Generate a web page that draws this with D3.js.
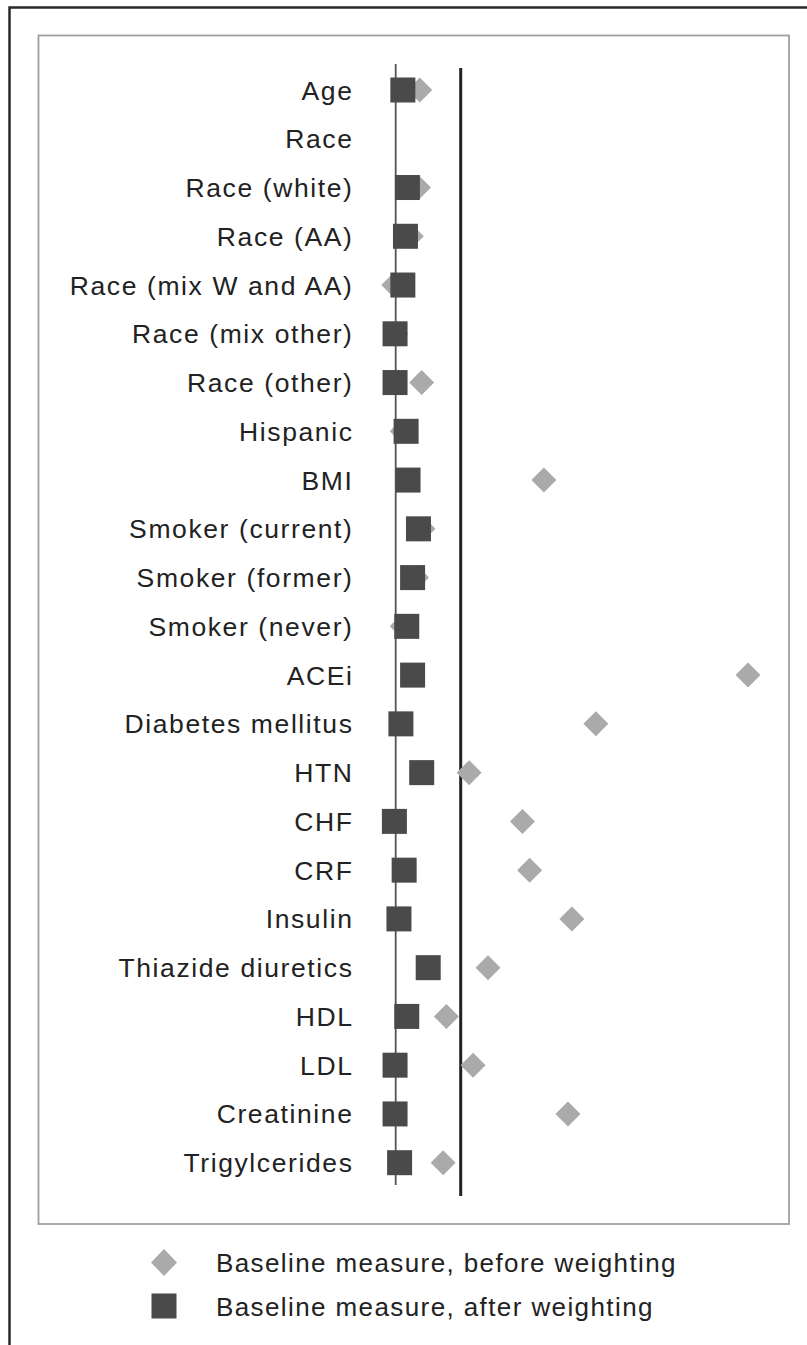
<!DOCTYPE html>
<html>
<head>
<meta charset="utf-8">
<script src="https://cdn.jsdelivr.net/npm/d3@7"></script>
<style>
  body { margin: 0; background: #fff; }
  svg { display: block; font-family: "Liberation Sans", Arial, Helvetica, sans-serif; }
</style>
</head>
<body>
<svg id="chart" width="807" height="1345"></svg>
<script>
// Variables (de arriba a abajo)
const variables = ["Age", "Race", "Race (white)", "Race (AA)", "Race (mix W and AA)", "Race (mix other)",
  "Race (other)", "Hispanic", "BMI", "Smoker (current)", "Smoker (former)", "Smoker (never)", "ACEi",
  "Diabetes mellitus", "HTN", "CHF", "CRF", "Insulin", "Thiazide diuretics", "HDL", "LDL",
  "Creatinine", "Trigylcerides"];

// Diferencia estandarizada antes de ponderar (rombos)
const antes = [0.037, null, 0.035, 0.024, -0.003, 0.000, 0.040, 0.010, 0.228, 0.042, 0.032, 0.010,
  0.542, 0.308, 0.113, 0.195, 0.206, 0.271, 0.142, 0.078, 0.119, 0.265, 0.073];

// Diferencia estandarizada después de ponderar (cuadrados)
const despues = [0.011, null, 0.018, 0.015, 0.011, -0.001, -0.001, 0.016, 0.019, 0.035, 0.026, 0.017,
  0.026, 0.008, 0.040, -0.002, 0.013, 0.005, 0.050, 0.017, -0.001, -0.001, 0.006];

const umbral = 0.1;

const leyenda = ["Baseline measure, before weighting", "Baseline measure, after weighting"];

const svg = d3.select("#chart");
const colorRombo = "#aaaaaa";
const colorCuadro = "#4a4a4a";
const tam = 25;

// Marco exterior (solo arriba e izquierda)
svg.append("path")
  .attr("d", "M9.5,1345 L9.5,7.5 L807,7.5")
  .attr("fill", "none")
  .attr("stroke", "#2a2a2a")
  .attr("stroke-width", 2.5);

// Caja interior gris
svg.append("rect")
  .attr("x", 38.5).attr("y", 35.5)
  .attr("width", 750.5).attr("height", 1188.5)
  .attr("fill", "none")
  .attr("stroke", "#a0a0a0")
  .attr("stroke-width", 1.8);

const x = d3.scaleLinear().domain([0, umbral]).range([395.7, 460.7]);
const y = d3.scalePoint().domain(variables).range([90, 1162.7]);

// Línea de cero
svg.append("line")
  .attr("x1", x(0)).attr("x2", x(0))
  .attr("y1", 64).attr("y2", 1185)
  .attr("stroke", "#555")
  .attr("stroke-width", 1.8);

// Línea del umbral
svg.append("line")
  .attr("x1", x(umbral)).attr("x2", x(umbral))
  .attr("y1", 68).attr("y2", 1196)
  .attr("stroke", "#222")
  .attr("stroke-width", 3);

// Etiquetas
svg.selectAll(".etiqueta")
  .data(variables)
  .enter()
  .append("text")
  .attr("class", "etiqueta")
  .attr("x", 353.5)
  .attr("y", d => y(d) + 9.5)
  .attr("text-anchor", "end")
  .attr("font-size", 26.5)
  .attr("letter-spacing", 1.6)
  .attr("fill", "#222")
  .text(d => d);

const diamante = d3.symbol().type(d3.symbolSquare).size((tam / Math.SQRT2) ** 2);

// Rombos (antes)
svg.selectAll(".rombo")
  .data(variables.map((v, i) => ({ v, val: antes[i] })).filter(d => d.val !== null))
  .enter()
  .append("path")
  .attr("class", "rombo")
  .attr("d", diamante)
  .attr("transform", d => `translate(${x(d.val)},${y(d.v)}) rotate(45)`)
  .attr("fill", colorRombo);

// Cuadrados (después)
svg.selectAll(".cuadro")
  .data(variables.map((v, i) => ({ v, val: despues[i] })).filter(d => d.val !== null))
  .enter()
  .append("rect")
  .attr("class", "cuadro")
  .attr("x", d => x(d.val) - tam / 2)
  .attr("y", d => y(d.v) - tam / 2)
  .attr("width", tam)
  .attr("height", tam)
  .attr("fill", colorCuadro);

// Leyenda
const leg = svg.append("g");
leg.append("path")
  .attr("d", "M164,1249 L177,1262.5 L164,1276 L151,1262.5 Z")
  .attr("fill", colorRombo);
leg.append("rect")
  .attr("x", 164 - tam / 2).attr("y", 1306 - tam / 2)
  .attr("width", tam).attr("height", tam)
  .attr("fill", colorCuadro);
leyenda.forEach((t, i) => {
  leg.append("text")
    .attr("x", 216)
    .attr("y", 1271.5 + i * 44)
    .attr("font-size", 26)
    .attr("letter-spacing", 1.4)
    .attr("fill", "#222")
    .text(t);
});
</script>
</body>
</html>
